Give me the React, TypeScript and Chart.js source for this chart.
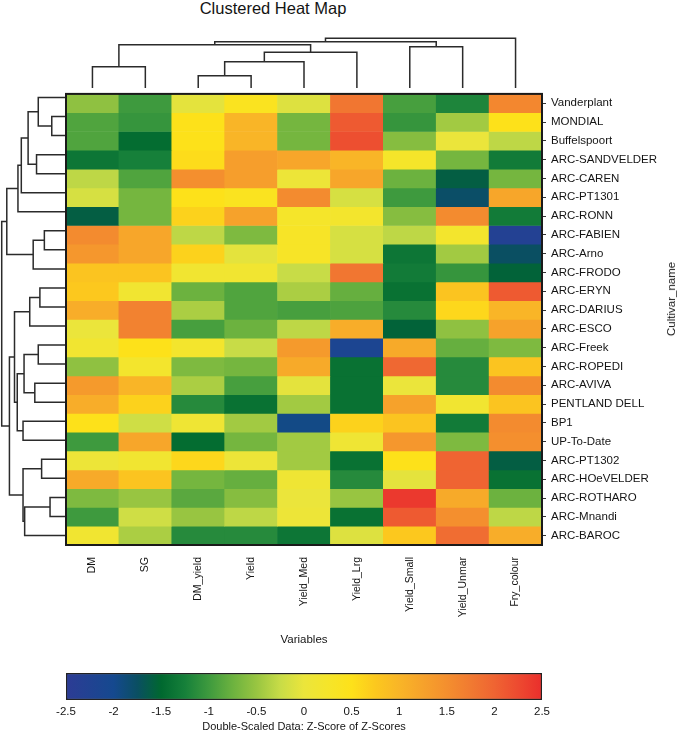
import React, { useEffect, useRef } from "react";
import { Chart, registerables } from "chart.js";

Chart.register(...registerables);

const FONT_FAMILY = "'Liberation Sans', Arial, Helvetica, sans-serif";
const TEXT_COLOR = "#141414";
const LINE_COLOR = "#2b2b2b";

// ---------- categories ----------
const variables = ["DM", "SG", "DM_yield", "Yield", "Yield_Med", "Yield_Lrg", "Yield_Small", "Yield_Unmar", "Fry_colour"];
const cultivars = [
  "Vanderplant", "MONDIAL", "Buffelspoort", "ARC-SANDVELDER", "ARC-CAREN", "ARC-PT1301", "ARC-RONN",
  "ARC-FABIEN", "ARC-Arno", "ARC-FRODO", "ARC-ERYN", "ARC-DARIUS", "ARC-ESCO", "ARC-Freek", "ARC-ROPEDI",
  "ARC-AVIVA", "PENTLAND DELL", "BP1", "UP-To-Date", "ARC-PT1302", "ARC-HOeVELDER", "ARC-ROTHARO",
  "ARC-Mnandi", "ARC-BAROC",
];

// ---------- double-scaled z-scores, one array per variable (rows in cultivar order) ----------
const DM = [-0.55, -0.9, -0.9, -1.35, -0.3, -0.15, -1.6, 1.55, 1.4, 0.8, 0.75, 1.1, 0.0, 0.15, -0.55, 1.35, 1.1, 0.5, -1.0, 0.05, 1.15, -0.65, -1.0, 0.15];
const SG = [-1.0, -1.05, -1.45, -1.25, -0.9, -0.7, -0.7, 1.2, 1.2, 0.8, 0.15, 1.65, 1.65, 0.5, 0.2, 1.0, 0.65, -0.2, 1.2, 0.15, 0.8, -0.5, -0.2, -0.4];
const DM_yield = [-0.05, 0.5, 0.5, 0.55, 1.5, 0.5, 0.65, -0.3, 0.65, 0.15, -0.75, -0.4, -0.95, 0.2, -0.65, -0.4, -1.15, 0.1, -1.45, 0.6, -0.7, -0.85, -0.5, -1.15];
const Yield = [0.4, 1.0, 1.0, 1.3, 1.3, 0.4, 1.25, -0.65, -0.05, 0.15, -0.9, -0.9, -0.75, -0.25, -0.7, -0.95, -1.4, -0.45, -0.7, 0.05, -0.78, -0.6, -0.3, -1.15];
const Yield_Med = [-0.1, -0.7, -0.7, 1.2, 0.05, 1.55, 0.25, 0.3, 0.3, -0.25, -0.4, -0.95, -0.3, 1.35, 1.15, -0.05, -0.45, -1.95, -0.45, -0.45, 0.1, 0.0, 0.05, -1.35];
const Yield_Lrg = [1.8, 2.1, 2.2, 1.0, 1.2, -0.15, 0.2, -0.15, -0.15, 1.8, -0.78, -0.92, 1.1, -2.15, -1.4, -1.4, -1.4, 0.65, 0.1, -1.4, -1.15, -0.5, -1.4, -0.1];
const Yield_Small = [-0.95, -1.05, -0.6, 0.25, -0.75, -1.0, -0.6, -0.3, -1.35, -1.3, -1.4, -1.15, -1.55, 1.15, 1.95, 0.0, 1.25, 0.8, 1.4, 0.5, -0.05, 2.4, 2.1, 0.75];
const Yield_Unmar = [-1.2, -0.45, 0.0, -0.7, -1.6, -1.78, 1.55, 0.2, -0.45, -1.05, 0.8, 0.6, -0.55, -0.78, -1.15, -1.15, 0.15, -1.3, -0.65, 2.0, 2.0, 1.15, 1.5, 1.9];
const Fry_colour = [1.6, 0.5, -0.3, -1.3, -0.7, 1.2, -1.3, -2.3, -1.75, -1.55, 2.1, 1.0, 1.25, -0.65, 0.8, 1.55, 0.8, 1.55, 1.5, -1.6, -1.4, -0.75, -0.3, 1.1];
const columnValues = [DM, SG, DM_yield, Yield, Yield_Med, Yield_Lrg, Yield_Small, Yield_Unmar, Fry_colour];

// ---------- dendrograms: [childA, childB, height]; ids < n are leaves in display order ----------
const columnMerges: [number, number, number][] = [
  [0, 1, 21.3], [2, 3, 12.3], [10, 4, 26.3], [11, 5, 35.7], [9, 12, 43.3],
  [6, 7, 41.3], [13, 14, 46.3], [15, 8, 49.7],
];
const rowMerges: [number, number, number][] = [
  [1, 2, 15], [0, 24, 28.3], [3, 4, 30], [25, 26, 38.3], [27, 5, 45], [28, 6, 48.3],
  [7, 8, 22.3], [30, 9, 33.3], [29, 31, 59.3],
  [10, 11, 26.7], [33, 12, 36.7], [13, 14, 28.3], [15, 16, 31.7], [35, 36, 42.3],
  [17, 18, 43.3], [37, 38, 49], [34, 39, 51.7],
  [19, 20, 25], [21, 22, 16.7], [42, 23, 41.7], [41, 43, 43.3], [40, 44, 56.7], [32, 45, 64.3],
];

// ---------- colour scale ----------
const colorMin = -2.5;
const colorMax = 2.5;
const colorTicks = [-2.5, -2, -1.5, -1, -0.5, 0, 0.5, 1, 1.5, 2, 2.5];
const colorStops: [number, string][] = [
  [-2.5, "#2d3c95"], [-2.0, "#15498f"], [-1.75, "#0a4f62"], [-1.5, "#00682f"], [-1.25, "#16803a"],
  [-1.0, "#3e9a3e"], [-0.75, "#6cb23f"], [-0.5, "#98c541"], [-0.25, "#c8dc47"], [0.0, "#ebe53b"],
  [0.25, "#f5e52a"], [0.5, "#fde11a"], [0.75, "#fcc81e"], [1.0, "#f9b527"], [1.25, "#f6a22b"],
  [1.5, "#f48f2e"], [1.75, "#f17a31"], [2.0, "#ef6432"], [2.25, "#ed4a30"], [2.5, "#ea2e2c"],
];

function hexToRgb(h: string) {
  const n = parseInt(h.slice(1), 16);
  return [(n >> 16) & 255, (n >> 8) & 255, n & 255];
}
function zColor(v: number) {
  const x = Math.max(colorMin, Math.min(colorMax, v));
  for (let i = 0; i < colorStops.length - 1; i++) {
    const [a, ca] = colorStops[i];
    const [b, cb] = colorStops[i + 1];
    if (x >= a && x <= b) {
      const t = (x - a) / (b - a);
      const A = hexToRgb(ca), B = hexToRgb(cb);
      const c = A.map((q, k) => Math.round(q + (B[k] - q) * t));
      return `rgb(${c[0]},${c[1]},${c[2]})`;
    }
  }
  return colorStops[colorStops.length - 1][1];
}

function dendroLinks(n: number, merges: [number, number, number][]) {
  const pos: number[] = [];
  const hgt: number[] = [];
  for (let i = 0; i < n; i++) { pos[i] = i; hgt[i] = 0; }
  return merges.map(([a, b, h], k) => {
    const id = n + k;
    pos[id] = (pos[a] + pos[b]) / 2;
    hgt[id] = h;
    return [
      { p: pos[a], h: hgt[a] }, { p: pos[a], h }, { p: pos[b], h }, { p: pos[b], h: hgt[b] },
    ];
  });
}

const font = (size: number) => ({ family: FONT_FAMILY, size });

const framePlugin = {
  id: "frame",
  afterDatasetsDraw(chart: any) {
    const { ctx, chartArea: a } = chart;
    ctx.save();
    ctx.strokeStyle = "#1a1a1a";
    ctx.lineWidth = 2;
    ctx.strokeRect(a.left, a.top, a.right - a.left, a.bottom - a.top);
    ctx.restore();
  },
};

const basePlugins = { legend: { display: false }, tooltip: { enabled: false }, title: { display: false } };

export default function App() {
  const heatRef = useRef<HTMLCanvasElement>(null);
  const topRef = useRef<HTMLCanvasElement>(null);
  const leftRef = useRef<HTMLCanvasElement>(null);
  const barRef = useRef<HTMLCanvasElement>(null);

  useEffect(() => {
    const charts: Chart[] = [];

    // ---- heat map ----
    charts.push(
      new Chart(heatRef.current!, {
        type: "bar",
        data: {
          labels: variables,
          datasets: cultivars.map((name, r) => ({
            label: name,
            data: variables.map(() => [r, r + 1]) as any,
            backgroundColor: columnValues.map((col) => zColor(col[r])),
            borderWidth: 0,
            barPercentage: 1,
            categoryPercentage: 1,
            grouped: false,
          })),
        },
        options: {
          responsive: false,
          animation: false,
          events: [],
          layout: { padding: { left: 6, top: 6, right: 0, bottom: 0 } },
          plugins: basePlugins as any,
          scales: {
            x: {
              type: "category",
              grid: { display: false, drawTicks: false },
              border: { display: false },
              ticks: { autoSkip: false, maxRotation: 90, minRotation: 90, padding: 12, font: font(10.5), color: TEXT_COLOR },
              title: { display: true, text: "Variables", font: font(11.5), color: TEXT_COLOR, padding: { top: 4, bottom: 4 } },
              afterFit: (s: any) => { s.height = 106; },
            },
            y: {
              type: "linear",
              position: "right",
              min: 0,
              max: cultivars.length,
              reverse: true,
              afterBuildTicks: (s: any) => { s.ticks = cultivars.map((_, i) => ({ value: i + 0.5 })); },
              ticks: {
                autoSkip: false,
                padding: 5,
                font: font(11.5),
                color: TEXT_COLOR,
                callback: (v: any) => cultivars[Math.floor(Number(v))],
              },
              grid: { display: true, drawOnChartArea: false, drawTicks: true, tickLength: 4, color: "#333" },
              border: { display: false },
              afterFit: (s: any) => { s.width = 130; },
            },
          },
        },
        plugins: [framePlugin],
      })
    );

    // ---- top (column) dendrogram ----
    const colLinks = dendroLinks(variables.length, columnMerges);
    charts.push(
      new Chart(topRef.current!, {
        type: "scatter",
        data: {
          datasets: colLinks.map((pts) => ({
            data: pts.map((q) => ({ x: q.p, y: q.h })),
            showLine: true,
            borderColor: LINE_COLOR,
            borderWidth: 1.5,
            pointRadius: 0,
            tension: 0,
            clip: false as any,
          })),
        },
        options: {
          responsive: false,
          animation: false,
          events: [],
          layout: { padding: { left: 6, right: 6, top: 8.3, bottom: 2 } },
          plugins: basePlugins as any,
          scales: {
            x: { type: "linear", display: false, min: -0.5, max: variables.length - 0.5 },
            y: { type: "linear", display: false, min: 0, max: columnMerges[columnMerges.length - 1][2] },
          },
        },
      })
    );

    // ---- left (row) dendrogram ----
    const rowLinks = dendroLinks(cultivars.length, rowMerges);
    charts.push(
      new Chart(leftRef.current!, {
        type: "scatter",
        data: {
          datasets: rowLinks.map((pts) => ({
            data: pts.map((q) => ({ x: q.h, y: q.p })),
            showLine: true,
            borderColor: LINE_COLOR,
            borderWidth: 1.5,
            pointRadius: 0,
            tension: 0,
            clip: false as any,
          })),
        },
        options: {
          responsive: false,
          animation: false,
          events: [],
          layout: { padding: { left: 1, right: 6, top: 6, bottom: 6 } },
          plugins: basePlugins as any,
          scales: {
            x: { type: "linear", display: false, min: 0, max: 65, reverse: true },
            y: { type: "linear", display: false, min: -0.5, max: cultivars.length - 0.5, reverse: true },
          },
        },
      })
    );

    // ---- colour bar ----
    charts.push(
      new Chart(barRef.current!, {
        type: "bar",
        data: {
          labels: [""],
          datasets: [
            {
              data: [[colorMin, colorMax]] as any,
              backgroundColor: (ctx: any) => {
                const chart = ctx.chart;
                if (!chart.chartArea) return "transparent";
                const xs = chart.scales.x;
                const g = chart.ctx.createLinearGradient(xs.getPixelForValue(colorMin), 0, xs.getPixelForValue(colorMax), 0);
                colorStops.forEach(([v, c]) => g.addColorStop((v - colorMin) / (colorMax - colorMin), c));
                return g;
              },
              borderColor: "#222",
              borderWidth: 1.5,
              borderSkipped: false,
              barPercentage: 1,
              categoryPercentage: 1,
            },
          ],
        },
        options: {
          indexAxis: "y",
          responsive: false,
          animation: false,
          events: [],
          layout: { padding: { left: 26, right: 23, top: 13, bottom: 0 } },
          plugins: basePlugins as any,
          scales: {
            y: { display: false },
            x: {
              type: "linear",
              min: colorMin,
              max: colorMax,
              afterBuildTicks: (s: any) => { s.ticks = colorTicks.map((v) => ({ value: v })); },
              ticks: { autoSkip: false, maxRotation: 0, padding: 5, font: font(11.5), color: TEXT_COLOR, callback: (v: any) => String(v) },
              grid: { display: false, drawTicks: false },
              border: { display: false },
              title: { display: true, text: "Double-Scaled Data: Z-Score of Z-Scores", font: font(11), color: TEXT_COLOR, padding: { top: 2, bottom: 4 } },
              afterFit: (s: any) => { s.height = 38; },
            },
          },
        },
      })
    );

    return () => charts.forEach((c) => c.destroy());
  }, []);

  const abs = (left: number, top: number): React.CSSProperties => ({ position: "absolute", left, top });

  return (
    <div style={{ position: "absolute", left: 0, top: 0, width: 685, height: 738, fontFamily: FONT_FAMILY, color: TEXT_COLOR, background: "#fff", overflow: "hidden" }}>
      <div style={{ position: "absolute", left: 0, top: 0, width: 546, textAlign: "center", fontSize: 16.5, lineHeight: "16px" }}>
        Clustered Heat Map
      </div>
      <canvas ref={topRef} width={488} height={60} style={abs(60, 30)} />
      <canvas ref={leftRef} width={73} height={469} style={abs(0, 82)} />
      <canvas ref={heatRef} width={612} height={569} style={abs(60, 82)} />
      <canvas ref={barRef} width={525} height={78} style={abs(40, 660)} />
      <div
        style={{
          position: "absolute", left: 671, top: 299, fontSize: 11.5, whiteSpace: "nowrap",
          transform: "translate(-50%, -50%) rotate(-90deg)",
        }}
      >
        Cultivar_name
      </div>
    </div>
  );
}
